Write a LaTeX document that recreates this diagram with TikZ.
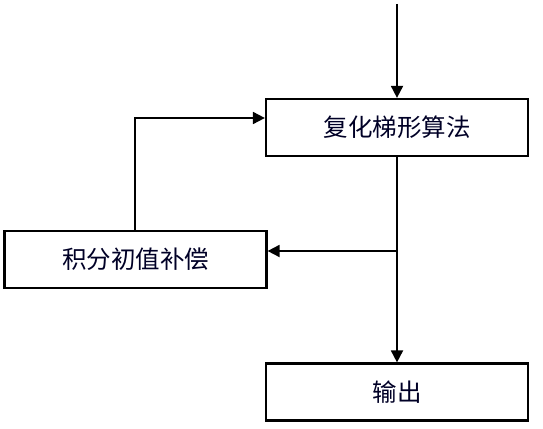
\documentclass[tikz,border=0pt]{standalone}
\usepackage{fontspec}
\newfontfamily\cjk{Noto Sans CJK SC}
\usetikzlibrary{arrows.meta}
\begin{document}
\begin{tikzpicture}[x=1pt,y=-1pt,
  box/.style={draw, line width=2.2pt, minimum width=262pt, minimum height=57pt, inner sep=0pt, font=\cjk\fontsize{24.5}{26}\selectfont, text=black!85!blue},
  conn/.style={line width=1.8pt, -{Triangle[length=12pt,width=12pt]}}]
\useasboundingbox (0,0) rectangle (543,428);
\node[box] (alg) at (397,127.5) {复化梯形算法};
\node[box] (comp) at (135.5,259.5) {积分初值补偿};
\node[box] (out) at (397,392) {输出};
\coordinate (start) at (397,4);
\coordinate (split) at (397,251);
\coordinate (corner) at (135,118);
\draw[conn] (start) -- (alg.north);
\draw[conn] (alg.south) -- (out.north);
\draw[conn] (split) -- (comp.east |- split);
\draw[conn] (comp.north -| corner) -- (corner) -- (alg.west |- corner);
\end{tikzpicture}
\end{document}
